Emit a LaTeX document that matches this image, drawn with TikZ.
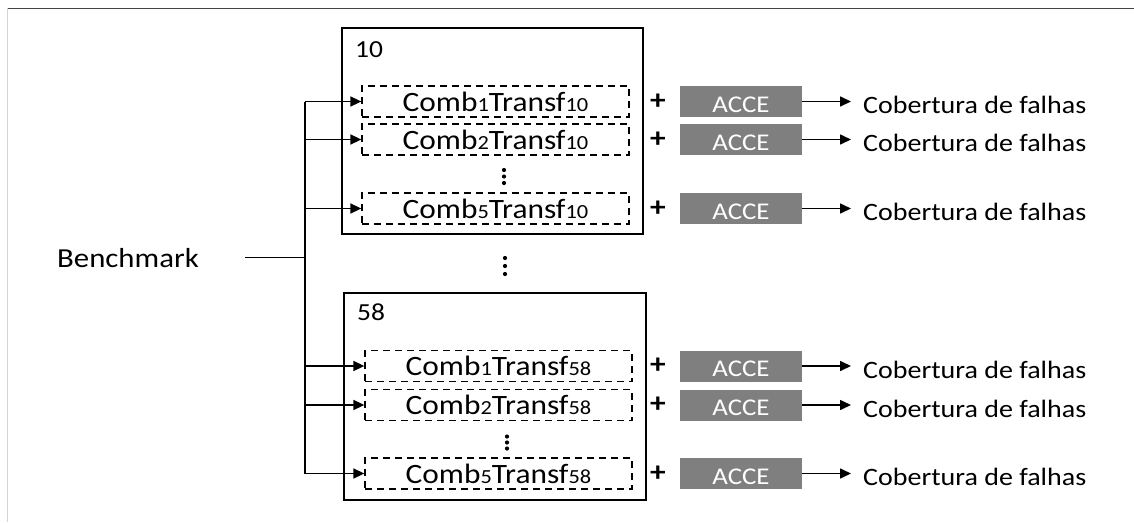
\documentclass[tikz,border=0pt]{standalone}
\usepackage{fontspec}
\setmainfont[FakeStretch=1.12]{Carlito}
\usetikzlibrary{arrows.meta}
\newcommand\fsz[1]{\fontsize{#1}{#1}\selectfont}
\newcommand\combtransf[2]{Comb{\fsz{20}#1}Transf{\fsz{20}#2}}
\definecolor{accegray}{HTML}{7F7F7F}
\definecolor{rulegray}{HTML}{444444}
\definecolor{edgegray}{HTML}{D4D4D4}
\begin{document}
\begin{tikzpicture}[x=1pt,y=-1pt,
  groupbox/.style={draw, line width=1.9pt, inner sep=0pt},
  config/.style={draw, line width=1.3pt, dash pattern=on 7pt off 5pt,
    minimum width=267pt, minimum height=31pt, inner sep=0pt,
    text height=19pt, text depth=0pt, font=\fsz{28}},
  acce/.style={fill=accegray, text=white, minimum width=122pt, minimum height=31pt,
    inner sep=0pt, text height=21pt, text depth=0pt, font=\fsz{24}},
  plus/.style={inner sep=0pt, font=\fsz{28}\bfseries},
  result/.style={inner sep=0pt, anchor=base west, font=\fsz{25}},
  grouplabel/.style={inner sep=0pt, anchor=base west, font=\fsz{24.5}},
  link/.style={line width=1.6pt},
  feed/.style={line width=1.6pt, -{Triangle[length=11pt,width=10pt]}},
  vdot/.style={fill=black, draw=none}
]
\useasboundingbox (0,0) rectangle (1134,522);

% frame rules
\draw[rulegray, line width=1pt] (7,8) -- (1134,8);
\draw[edgegray, line width=1pt] (7,8) -- (7,522);

% group boxes
\node[groupbox, minimum width=301pt, minimum height=206pt] (g1) at (492.5,131) {};
\node[groupbox, minimum width=302pt, minimum height=207pt] (g2) at (495,396.5) {};
\node[grouplabel] (l1) at (355,57) {10};
\node[grouplabel] (l2) at (357,320) {58};

% configurations, group 10
\node[config] (c11) at (495.5,101.5) {\combtransf{1}{10}};
\node[config] (c12) at (495.5,139.5) {\combtransf{2}{10}};
\node[config] (c15) at (495.5,208.5) {\combtransf{5}{10}};
% configurations, group 58
\node[config] (c21) at (498.5,366) {\combtransf{1}{58}};
\node[config] (c22) at (498.5,405) {\combtransf{2}{58}};
\node[config] (c25) at (498.5,473.5) {\combtransf{5}{58}};

% vertical ellipses
\foreach \y in {170,176.5,183} \fill[vdot] (504,\y) circle (2.1pt);
\foreach \y in {258,266,274} \fill[vdot] (505,\y) circle (2.1pt);
\foreach \y in {436.5,442.5,448.5} \fill[vdot] (507,\y) circle (2.1pt);

% plus signs, ACCE blocks and results
\foreach \n/\y/\yb in {11/101.5/113, 12/139.5/151, 15/208.5/220,
                       21/366/378, 22/405/417, 25/473.5/485}{
  \node[plus] (p\n) at (658,\y) {+};
  \node[acce] (a\n) at (741,\y) {ACCE};
  \node[result] (r\n) at (863,\yb) {Cobertura de falhas};
  \draw[feed, shorten >=12pt] (a\n.east) -- (a\n.east -| r\n.west);
}

% benchmark input and distribution trunk
\node[inner sep=0pt, anchor=base west, font=\fsz{27.5}] (bm) at (57,267) {Benchmark};
\coordinate (bj) at (305,258.3);
\draw[link, shorten <=46pt] (bm.east) -- (bm.east -| bj);
\draw[link] (c11.west -| bj) -- (c25.west -| bj);
\foreach \n in {11,12,15,21,22,25}
  \draw[feed] (c\n.west -| bj) -- (c\n.west);
\end{tikzpicture}
\end{document}
